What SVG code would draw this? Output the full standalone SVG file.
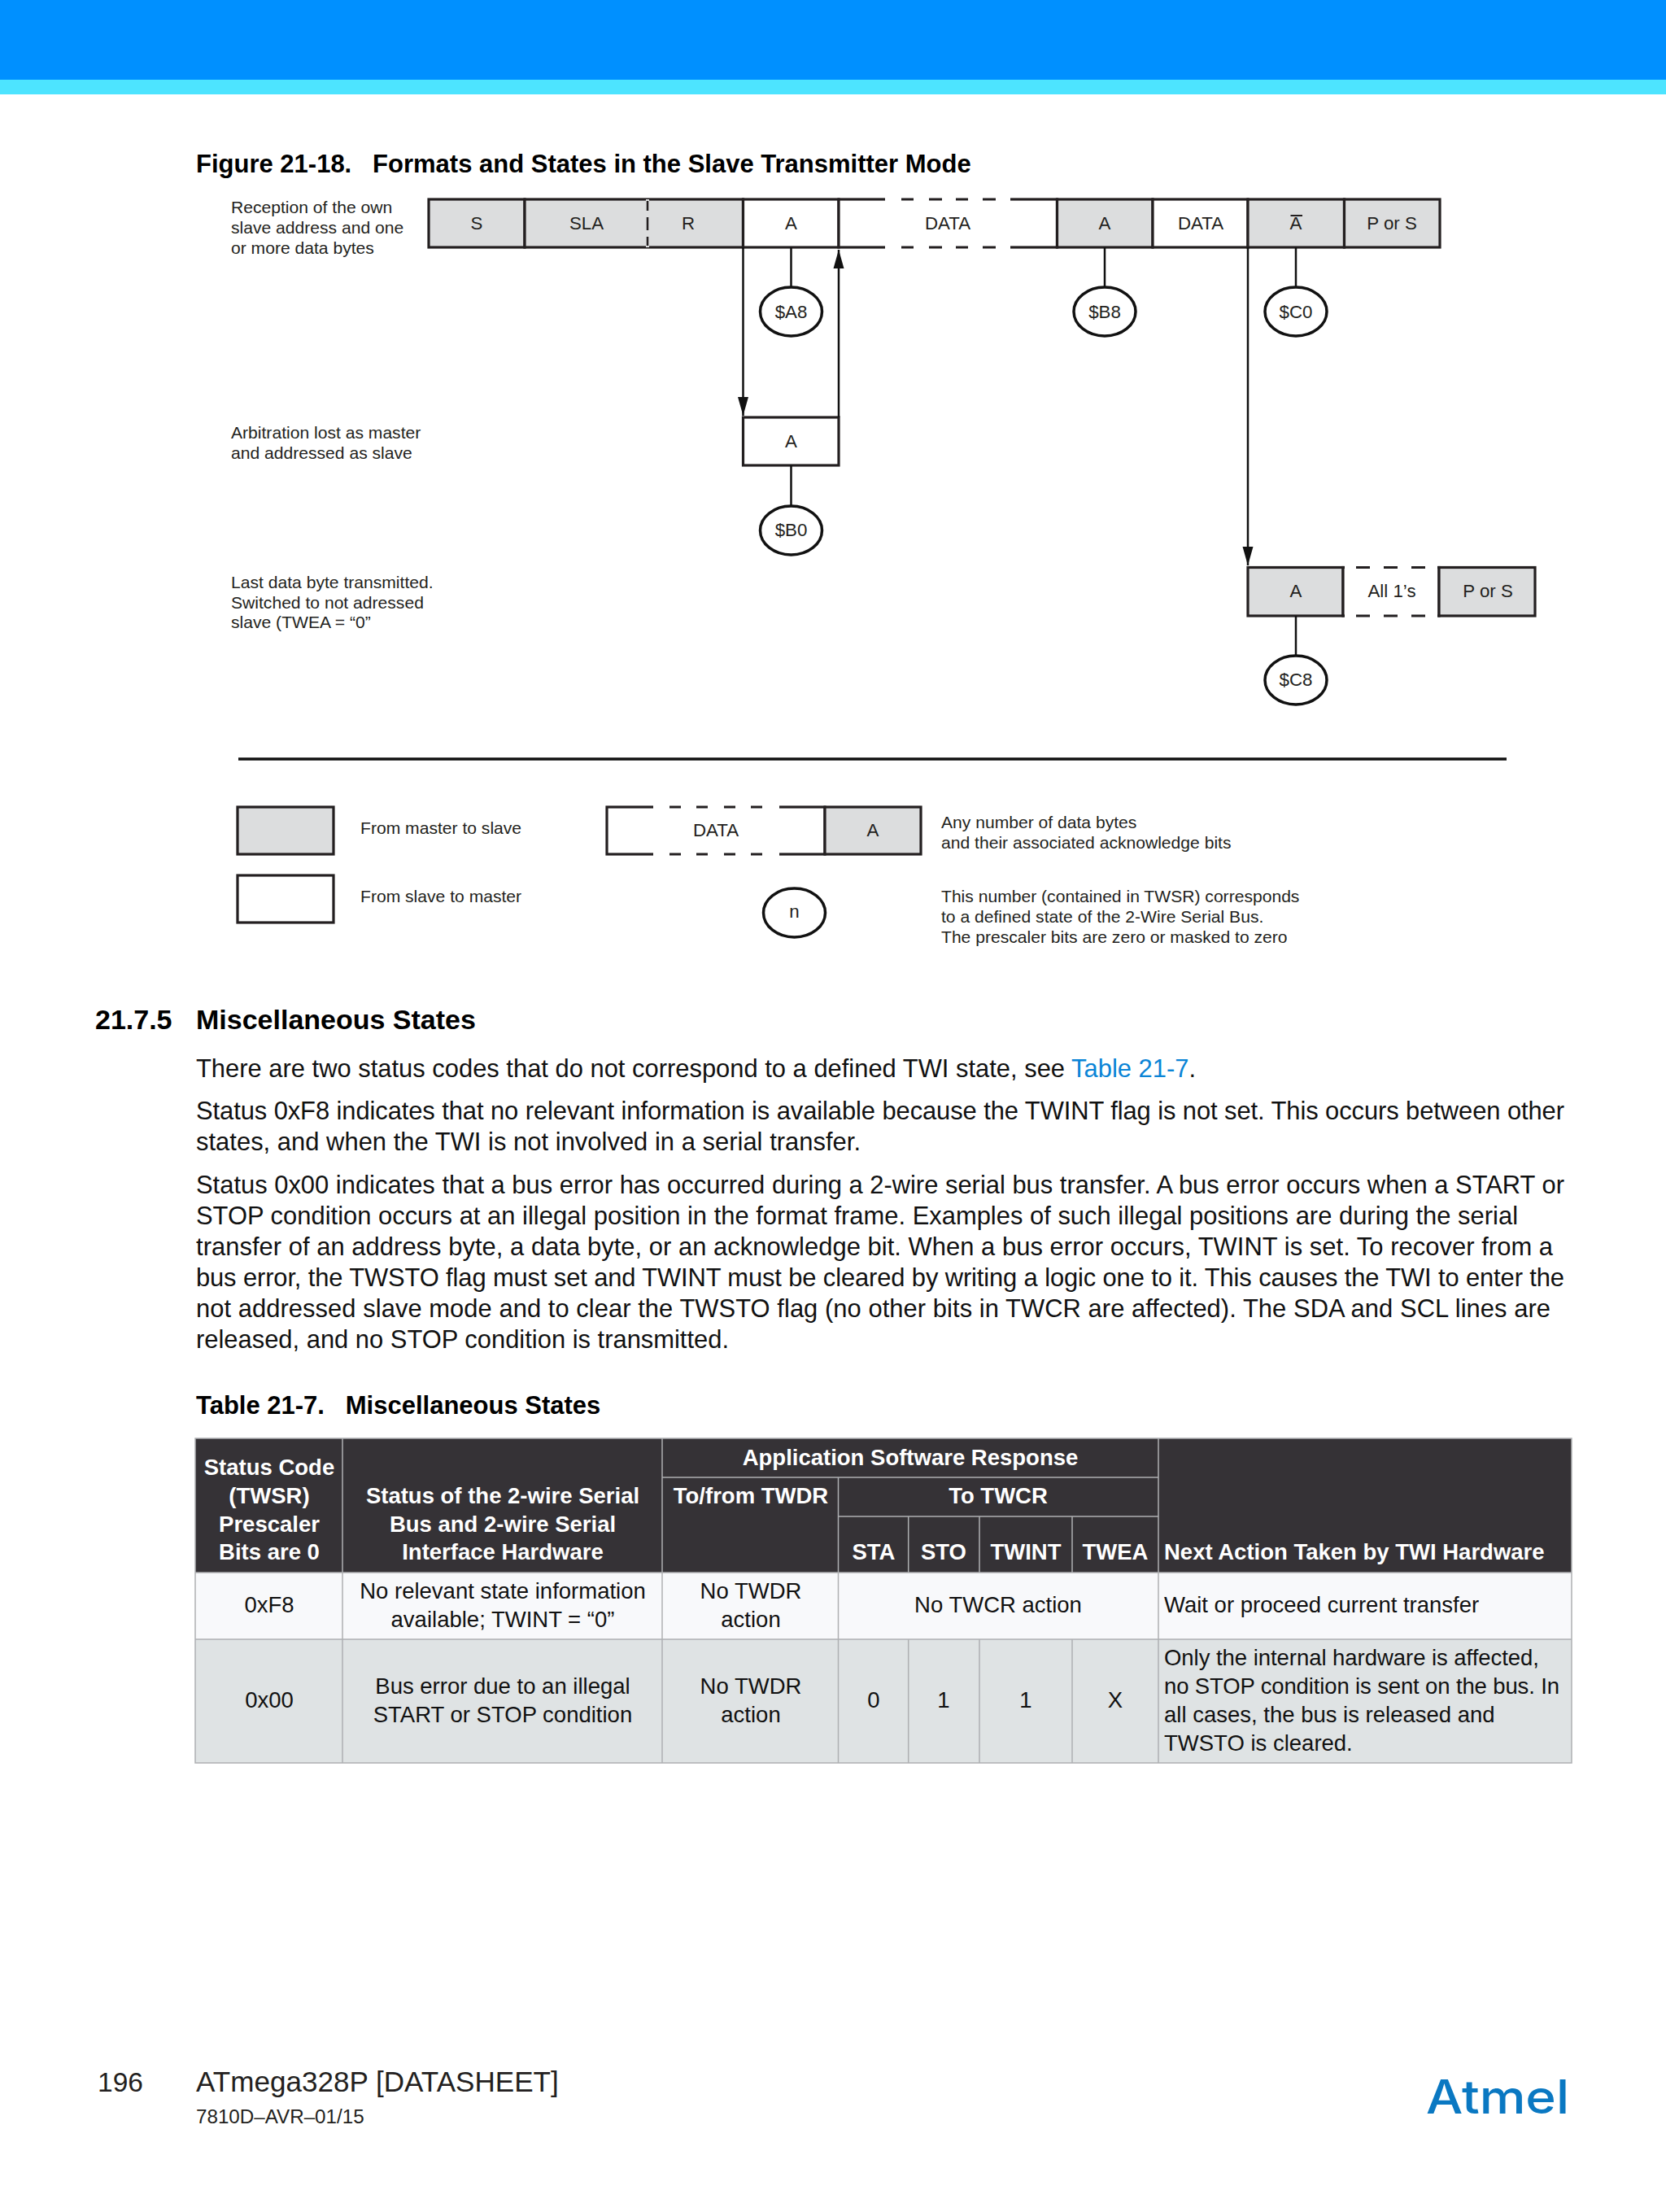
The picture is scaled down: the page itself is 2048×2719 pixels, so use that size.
<svg xmlns="http://www.w3.org/2000/svg" width="2048" height="2719" viewBox="0 0 2048 2719">
<style>
text{font-family:"Liberation Sans",Arial,sans-serif;fill:#231f20}
.t{font-size:21.1px}
.c{font-size:22.3px;text-anchor:middle}
.b{font-size:30.9px;fill:#111}
.h{font-weight:bold;font-size:31px;fill:#000}
.th{font-size:27.5px;font-weight:bold;fill:#fff;text-anchor:middle}
.ths{text-anchor:start}
.td{font-size:27.5px;text-anchor:middle;fill:#111}
.tl{text-anchor:start}
.box{stroke:#231f20;stroke-width:3.2;fill:#fff}
.g{fill:#dcddde}
.n{fill:#fff;stroke:#111;stroke-width:3.5}
.l{stroke:#111;stroke-width:2.5;fill:none}
.ds{stroke:#231f20;stroke-width:3.2;fill:none}
.w{fill:#fff;stroke:none}
.gl{stroke:#aeb0b2;stroke-width:1.5;fill:none}
.lk{fill:#0a84d6}
</style>
<defs>
<marker id="arrow" markerUnits="userSpaceOnUse" markerWidth="23" markerHeight="14" refX="23" refY="7" orient="auto"><path d="M0 0.500L23 7L0 13.500z" fill="#111"/></marker></defs>
<g id="header"><rect width="2048" height="98" fill="#0090ff"/><rect y="98" width="2048" height="18" fill="#4de4ff"/></g>
<text id="figure-title" class="h" x="241" y="212" xml:space="preserve">Figure 21-18.   Formats and States in the Slave Transmitter Mode</text>

<g id="note-1"><text class="t" x="284" y="262">Reception of the own</text><text class="t" x="284" y="287">slave address and one</text><text class="t" x="284" y="312">or more data bytes</text></g>
<g id="note-2"><text class="t" x="284" y="539">Arbitration lost as master</text><text class="t" x="284" y="564">and addressed as slave</text></g>
<g id="note-3"><text class="t" x="284" y="723">Last data byte transmitted.</text><text class="t" x="284" y="748">Switched to not adressed</text><text class="t" x="284" y="772">slave (TWEA = “0”</text></g>

<g id="frame-main">
<rect class="box g" x="527" y="245" width="118" height="59"/>
<rect class="box g" x="645" y="245" width="268.500" height="59"/>
<line x1="796" y1="245" x2="796" y2="304" stroke="#dcddde" stroke-width="4"/>
<line x1="796" y1="247" x2="796" y2="302" stroke="#231f20" stroke-width="2.500" stroke-dasharray="12 8 16 8 12"/>
<rect class="box" x="913.500" y="245" width="117.500" height="59"/>
<rect class="box" x="1031" y="245" width="268.500" height="59"/>
<rect class="w" x="1088" y="242" width="154" height="6"/><rect class="w" x="1088" y="301" width="154" height="6"/>
<path class="ds" d="M1108 245h15M1142 245h16M1175 245h15M1208 245h16M1108 304h15M1142 304h16M1175 304h15M1208 304h16"/>
<rect class="box g" x="1299.500" y="245" width="117.500" height="59"/>
<rect class="box" x="1417" y="245" width="117" height="59"/>
<rect class="box g" x="1534" y="245" width="118.500" height="59"/>
<rect class="box g" x="1652.500" y="245" width="117.500" height="59"/>
<text class="c" x="586" y="282">S</text><text class="c" x="721" y="282">SLA</text><text class="c" x="846" y="282">R</text><text class="c" x="972.500" y="282">A</text><text class="c" x="1165" y="282">DATA</text><text class="c" x="1358" y="282">A</text><text class="c" x="1476" y="282">DATA</text><text class="c" x="1593" y="282">A</text><line x1="1586.500" y1="265" x2="1601" y2="265" stroke="#231f20" stroke-width="2"/><text class="c" x="1711" y="282">P or S</text>
</g>
<g id="frame-arb"><rect class="box" x="913.500" y="513" width="117.500" height="59"/><text class="c" x="972.500" y="550">A</text></g>
<g id="frame-last">
<rect class="box g" x="1534" y="697.500" width="117" height="59.500"/>
<rect class="box" x="1651" y="697.500" width="118" height="59.500"/>
<rect class="w" x="1653" y="694.500" width="114" height="6"/><rect class="w" x="1653" y="754" width="114" height="6"/>
<path class="ds" d="M1667 697.500h17M1701 697.500h17M1735 697.500h17M1667 757h17M1701 757h17M1735 757h17"/>
<rect class="box g" x="1769" y="697.500" width="118" height="59.500"/>
<text class="c" x="1593" y="734">A</text><text class="c" x="1711" y="734">All 1’s</text><text class="c" x="1829" y="734">P or S</text>
</g>

<g id="connectors">
<line class="l" x1="972.500" y1="304" x2="972.500" y2="353"/>
<line class="l" x1="1358" y1="304" x2="1358" y2="353"/>
<line class="l" x1="1593" y1="304" x2="1593" y2="353"/>
<line class="l" x1="972.500" y1="572" x2="972.500" y2="622"/>
<line class="l" x1="1593" y1="757" x2="1593" y2="806"/>
<line class="l" x1="913.500" y1="304" x2="913.500" y2="511" marker-end="url(#arrow)"/>
<line class="l" x1="1031" y1="513" x2="1031" y2="307" marker-end="url(#arrow)"/>
<line class="l" x1="1534" y1="304" x2="1534" y2="695" marker-end="url(#arrow)"/>
</g>
<g id="state-a8"><ellipse class="n" cx="972.500" cy="383" rx="38" ry="30"/><text class="c" x="972.500" y="391">$A8</text></g>
<g id="state-b8"><ellipse class="n" cx="1358" cy="383" rx="38" ry="30"/><text class="c" x="1358" y="391">$B8</text></g>
<g id="state-c0"><ellipse class="n" cx="1593" cy="383" rx="38" ry="30"/><text class="c" x="1593" y="391">$C0</text></g>
<g id="state-b0"><ellipse class="n" cx="972.500" cy="652" rx="38" ry="30"/><text class="c" x="972.500" y="659">$B0</text></g>
<g id="state-c8"><ellipse class="n" cx="1593" cy="836" rx="38" ry="30"/><text class="c" x="1593" y="843">$C8</text></g>

<line id="separator" x1="293" y1="933" x2="1852" y2="933" stroke="#111" stroke-width="3.500"/>

<g id="legend">
<rect class="box g" x="292" y="992" width="118" height="58"/>
<rect class="box" x="292" y="1076" width="118" height="58"/>
<text class="t" x="443" y="1025">From master to slave</text><text class="t" x="443" y="1109">From slave to master</text>
<rect class="box" x="746" y="992" width="268" height="58"/>
<rect class="w" x="803" y="989" width="155" height="6"/><rect class="w" x="803" y="1047" width="155" height="6"/>
<path class="ds" d="M823 992h14M856 992h14M890 992h14M923 992h14M823 1050h14M856 1050h14M890 1050h14M923 1050h14"/>
<rect class="box g" x="1014" y="992" width="118" height="58"/>
<text class="c" x="880" y="1028">DATA</text><text class="c" x="1073" y="1028">A</text>
<ellipse class="n" cx="976.500" cy="1122" rx="38" ry="30"/><text class="c" x="976.500" y="1128">n</text>
<text class="t" x="1157" y="1018">Any number of data bytes</text><text class="t" x="1157" y="1043">and their associated acknowledge bits</text>
<text class="t" x="1157" y="1109">This number (contained in TWSR) corresponds</text><text class="t" x="1157" y="1134">to a defined state of the 2-Wire Serial Bus.</text><text class="t" x="1157" y="1159">The prescaler bits are zero or masked to zero</text>
</g>

<g id="section">
<text class="h" style="font-size:34px" x="117" y="1265">21.7.5</text><text class="h" style="font-size:34px" x="241" y="1265">Miscellaneous States</text>
<text class="b" x="241" y="1324" textLength="1229">There are two status codes that do not correspond to a defined TWI state, see <tspan class="lk">Table 21-7</tspan>.</text>
<text class="b" x="241" y="1376" textLength="1682">Status 0xF8 indicates that no relevant information is available because the TWINT flag is not set. This occurs between other</text>
<text class="b" x="241" y="1414" textLength="817">states, and when the TWI is not involved in a serial transfer.</text>
<text class="b" x="241" y="1467" textLength="1682">Status 0x00 indicates that a bus error has occurred during a 2-wire serial bus transfer. A bus error occurs when a START or</text>
<text class="b" x="241" y="1505" textLength="1625">STOP condition occurs at an illegal position in the format frame. Examples of such illegal positions are during the serial</text>
<text class="b" x="241" y="1543" textLength="1668">transfer of an address byte, a data byte, or an acknowledge bit. When a bus error occurs, TWINT is set. To recover from a</text>
<text class="b" x="241" y="1581" textLength="1682">bus error, the TWSTO flag must set and TWINT must be cleared by writing a logic one to it. This causes the TWI to enter the</text>
<text class="b" x="241" y="1619" textLength="1665">not addressed slave mode and to clear the TWSTO flag (no other bits in TWCR are affected). The SDA and SCL lines are</text>
<text class="b" x="241" y="1657" textLength="655">released, and no STOP condition is transmitted.</text>
</g>
<text id="table-title" class="h" x="241" y="1738" xml:space="preserve">Table 21-7.   Miscellaneous States</text>

<g id="table">
<rect x="240" y="1768" width="1692" height="165" fill="#353236"/>
<rect x="240" y="1933" width="1692" height="82" fill="#f8f9fb"/>
<rect x="240" y="2015" width="1692" height="152" fill="#dfe3e4"/>
<path class="gl" d="M240 1768H1932V2167H240ZM240 1933H1932M240 2015H1932M421 1768V2167M814 1768V2167M1030.500 1816V2167M1424 1768V2167M814 1816H1424M1030.500 1864H1424M1116.700 1864V1933M1204 1864V1933M1318 1864V1933M1116.700 2015V2167M1204 2015V2167M1318 2015V2167"/>
<g>
<text class="th" x="331" y="1813">Status Code</text><text class="th" x="331" y="1848">(TWSR)</text><text class="th" x="331" y="1883">Prescaler</text><text class="th" x="331" y="1917">Bits are 0</text>
<text class="th" x="618" y="1848">Status of the 2-wire Serial</text><text class="th" x="618" y="1883">Bus and 2-wire Serial</text><text class="th" x="618" y="1917">Interface Hardware</text>
<text class="th" x="1119" y="1801">Application Software Response</text>
<text class="th" x="923" y="1848">To/from TWDR</text>
<text class="th" x="1227" y="1848">To TWCR</text>
<text class="th" x="1074" y="1917">STA</text><text class="th" x="1160" y="1917">STO</text><text class="th" x="1261" y="1917">TWINT</text><text class="th" x="1371" y="1917">TWEA</text>
<text class="th ths" x="1431" y="1917">Next Action Taken by TWI Hardware</text>
</g>
<g>
<text class="td" x="331" y="1982">0xF8</text>
<text class="td" x="618" y="1965">No relevant state information</text><text class="td" x="618" y="2000">available; TWINT = “0”</text>
<text class="td" x="923" y="1965">No TWDR</text><text class="td" x="923" y="2000">action</text>
<text class="td" x="1227" y="1982">No TWCR action</text>
<text class="td tl" x="1431" y="1982">Wait or proceed current transfer</text>
<text class="td" x="331" y="2099">0x00</text>
<text class="td" x="618" y="2082">Bus error due to an illegal</text><text class="td" x="618" y="2117">START or STOP condition</text>
<text class="td" x="923" y="2082">No TWDR</text><text class="td" x="923" y="2117">action</text>
<text class="td" x="1074" y="2099">0</text><text class="td" x="1160" y="2099">1</text><text class="td" x="1261" y="2099">1</text><text class="td" x="1371" y="2099">X</text>
<text class="td tl" x="1431" y="2047" textLength="461">Only the internal hardware is affected,</text><text class="td tl" x="1431" y="2082" textLength="486">no STOP condition is sent on the bus. In</text><text class="td tl" x="1431" y="2117">all cases, the bus is released and</text><text class="td tl" x="1431" y="2152">TWSTO is cleared.</text>
</g>
</g>

<g id="footer">
<text x="120" y="2571" style="font-size:33.500px">196</text>
<text x="241" y="2571" style="font-size:35.100px">ATmega328P [DATASHEET]</text>
<text x="241" y="2610" style="font-size:24.200px">7810D–AVR–01/15</text>
<text x="1753" y="2598" style="font-size:57px;font-weight:500;font-family:Inter,'Liberation Sans',sans-serif;fill:#0a78c2" textLength="176" lengthAdjust="spacingAndGlyphs">Atmel</text>
</g>
</svg>
